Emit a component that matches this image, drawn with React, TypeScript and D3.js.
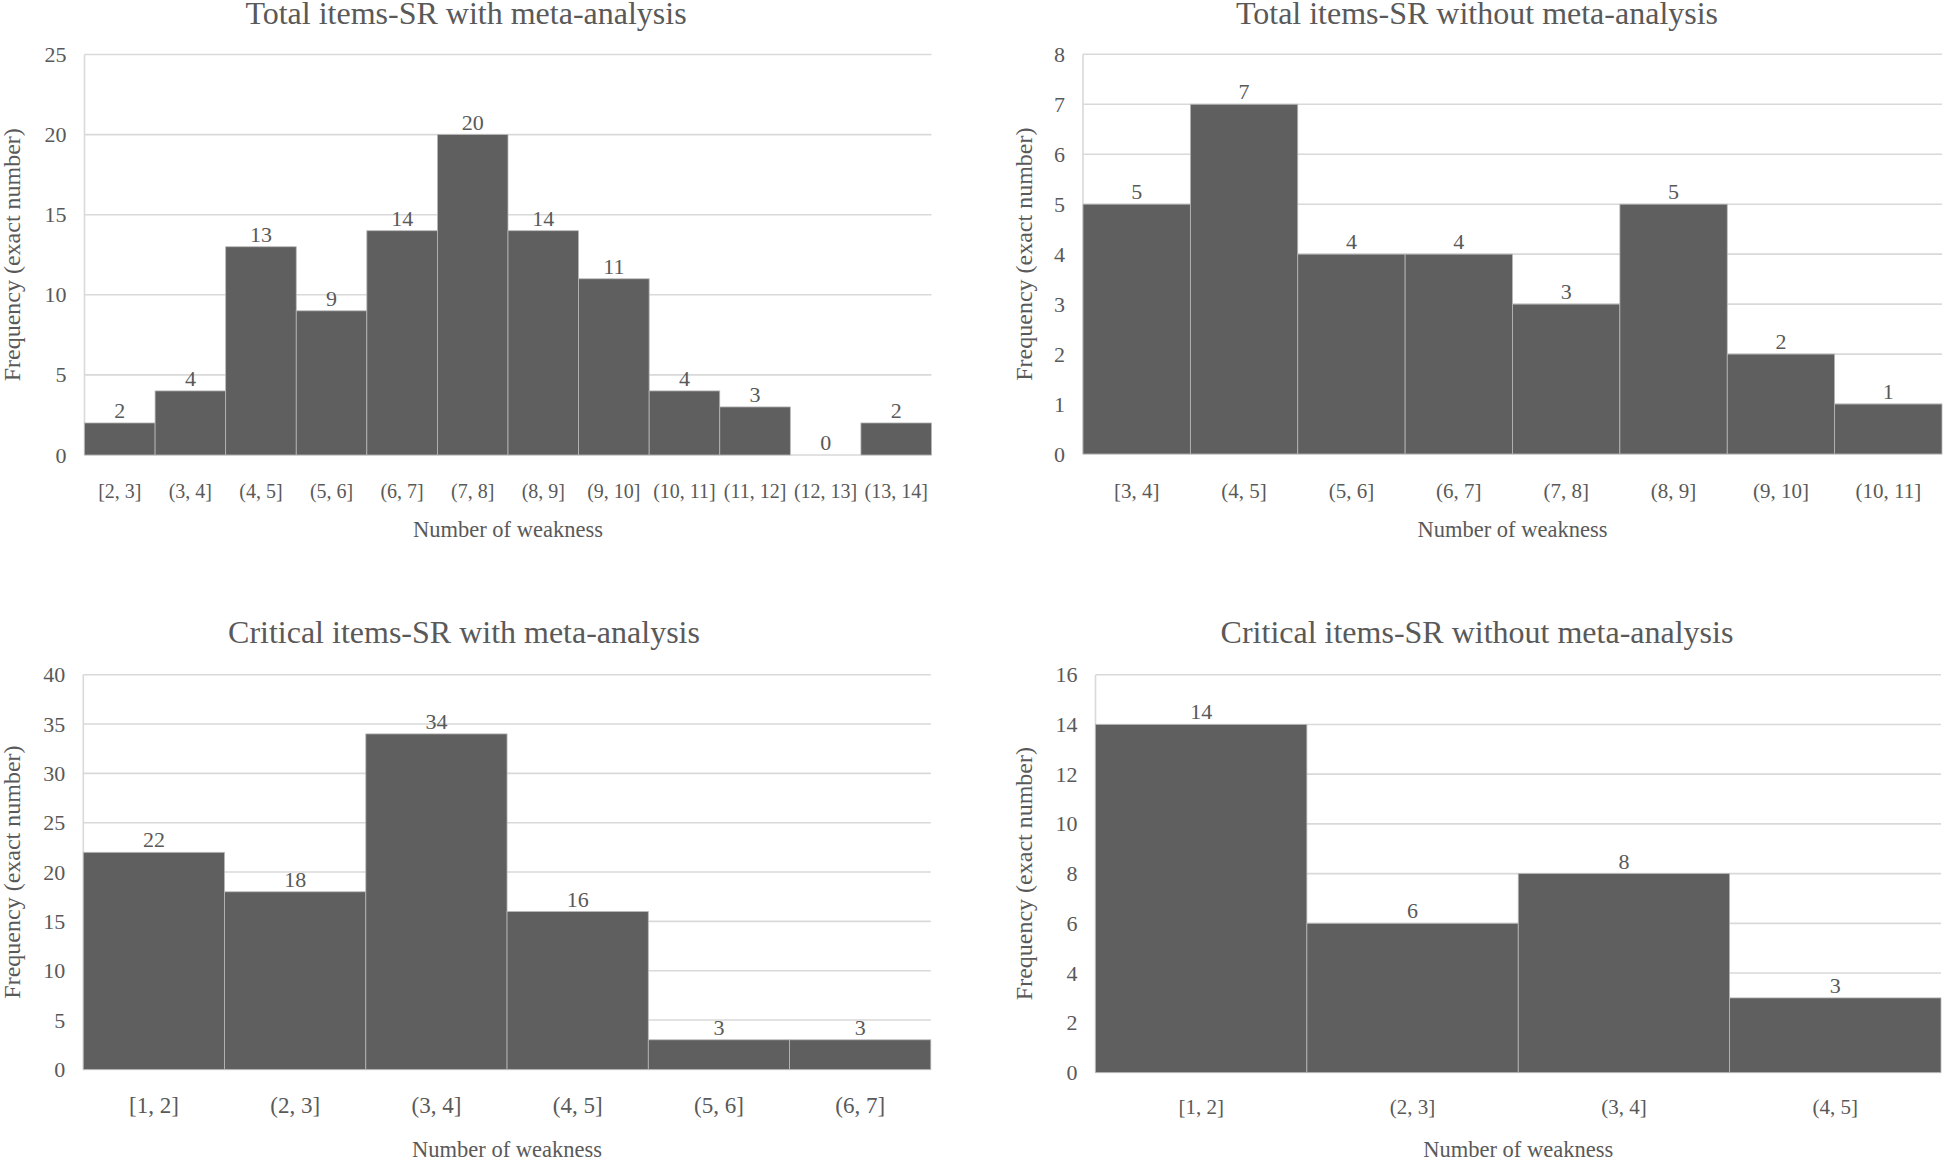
import React from "react";
import * as d3 from "d3";

// ---------- Data ----------
const totalWithCats = ["[2, 3]", "(3, 4]", "(4, 5]", "(5, 6]", "(6, 7]", "(7, 8]", "(8, 9]", "(9, 10]", "(10, 11]", "(11, 12]", "(12, 13]", "(13, 14]"];
const totalWithVals = [2, 4, 13, 9, 14, 20, 14, 11, 4, 3, 0, 2];
const totalWithTicks = [0, 5, 10, 15, 20, 25];

const totalWithoutCats = ["[3, 4]", "(4, 5]", "(5, 6]", "(6, 7]", "(7, 8]", "(8, 9]", "(9, 10]", "(10, 11]"];
const totalWithoutVals = [5, 7, 4, 4, 3, 5, 2, 1];
const totalWithoutTicks = [0, 1, 2, 3, 4, 5, 6, 7, 8];

const criticalWithCats = ["[1, 2]", "(2, 3]", "(3, 4]", "(4, 5]", "(5, 6]", "(6, 7]"];
const criticalWithVals = [22, 18, 34, 16, 3, 3];
const criticalWithTicks = [0, 5, 10, 15, 20, 25, 30, 35, 40];

const criticalWithoutCats = ["[1, 2]", "(2, 3]", "(3, 4]", "(4, 5]"];
const criticalWithoutVals = [14, 6, 8, 3];
const criticalWithoutTicks = [0, 2, 4, 6, 8, 10, 12, 14, 16];

const titles = [
  "Total items-SR with meta-analysis",
  "Total items-SR without meta-analysis",
  "Critical items-SR with meta-analysis",
  "Critical items-SR without meta-analysis",
];
const xTitle = "Number of weakness";
const yTitle = "Frequency (exact number)";

// ---------- Styles ----------
const FONT = "'Liberation Serif', 'Times New Roman', serif";
const TEXT = "#595959";
const GRID = "#d9d9d9";
const BAR = "#5f5f5f";

type PanelProps = {
  cats: string[];
  vals: number[];
  ticks: number[];
  title: string;
  x0: number; x1: number; yTop: number; yBase: number;
  titleX: number; titleY: number;
  yTitleX: number;
  xTickY: number; xTitleY: number;
  tickFont: number;
};

function Panel(p: PanelProps) {
  const x = d3.scaleBand<string>().domain(p.cats).range([p.x0, p.x1]).padding(0);
  const y = d3.scaleLinear().domain([0, d3.max(p.ticks) as number]).range([p.yBase, p.yTop]);
  const yMid = (p.yTop + p.yBase) / 2;
  return (
    <g fontFamily={FONT} fill={TEXT}>
      <text x={p.titleX} y={p.titleY} textAnchor="middle" fontSize={32}>{p.title}</text>
      {p.ticks.map((t) => (
        <g key={"g" + t}>
          <line x1={p.x0} x2={p.x1} y1={y(t)} y2={y(t)} stroke={GRID} strokeWidth={1.6} />
          <text x={p.x0 - 18} y={y(t) + 7.5} textAnchor="end" fontSize={22}>{t}</text>
        </g>
      ))}
      <line x1={p.x0} x2={p.x0} y1={p.yTop} y2={p.yBase} stroke={GRID} strokeWidth={1.6} />
      {p.cats.map((c, i) => (
        <g key={c}>
          <rect
            x={x(c) as number}
            y={y(p.vals[i])}
            width={x.bandwidth()}
            height={p.yBase - y(p.vals[i])}
            fill={BAR}
            stroke="#b8b8b8"
            strokeWidth={0.8}
          />
          <text x={(x(c) as number) + x.bandwidth() / 2} y={y(p.vals[i]) - 5} textAnchor="middle" fontSize={22}>
            {p.vals[i]}
          </text>
          <text x={(x(c) as number) + x.bandwidth() / 2} y={p.xTickY} textAnchor="middle" fontSize={p.tickFont}>
            {c}
          </text>
        </g>
      ))}
      <text x={(p.x0 + p.x1) / 2} y={p.xTitleY} textAnchor="middle" fontSize={22.5}>{xTitle}</text>
      <text
        transform={`translate(${p.yTitleX},${yMid}) rotate(-90)`}
        textAnchor="middle"
        fontSize={24}
      >
        {yTitle}
      </text>
    </g>
  );
}

export default function App() {
  return (
    <svg width={1944} height={1160} style={{ position: "absolute", left: 0, top: 0, background: "#fff" }}>
      <rect x={0} y={0} width={1944} height={1160} fill="#fff" />
      <Panel cats={totalWithCats} vals={totalWithVals} ticks={totalWithTicks} title={titles[0]}
        x0={84.5} x1={931.5} yTop={54.5} yBase={455} titleX={466} titleY={24} yTitleX={20}
        xTickY={498} xTitleY={537} tickFont={20} />
      <Panel cats={totalWithoutCats} vals={totalWithoutVals} ticks={totalWithoutTicks} title={titles[1]}
        x0={1083} x1={1942} yTop={54.3} yBase={454} titleX={1477} titleY={24} yTitleX={1032}
        xTickY={498} xTitleY={537} tickFont={21} />
      <Panel cats={criticalWithCats} vals={criticalWithVals} ticks={criticalWithTicks} title={titles[2]}
        x0={83.3} x1={930.8} yTop={674.7} yBase={1069.4} titleX={464} titleY={643} yTitleX={20}
        xTickY={1113} xTitleY={1157} tickFont={23} />
      <Panel cats={criticalWithoutCats} vals={criticalWithoutVals} ticks={criticalWithoutTicks} title={titles[3]}
        x0={1095.5} x1={1941} yTop={674.7} yBase={1072.5} titleX={1477} titleY={643} yTitleX={1032}
        xTickY={1114} xTitleY={1157} tickFont={21} />
    </svg>
  );
}
